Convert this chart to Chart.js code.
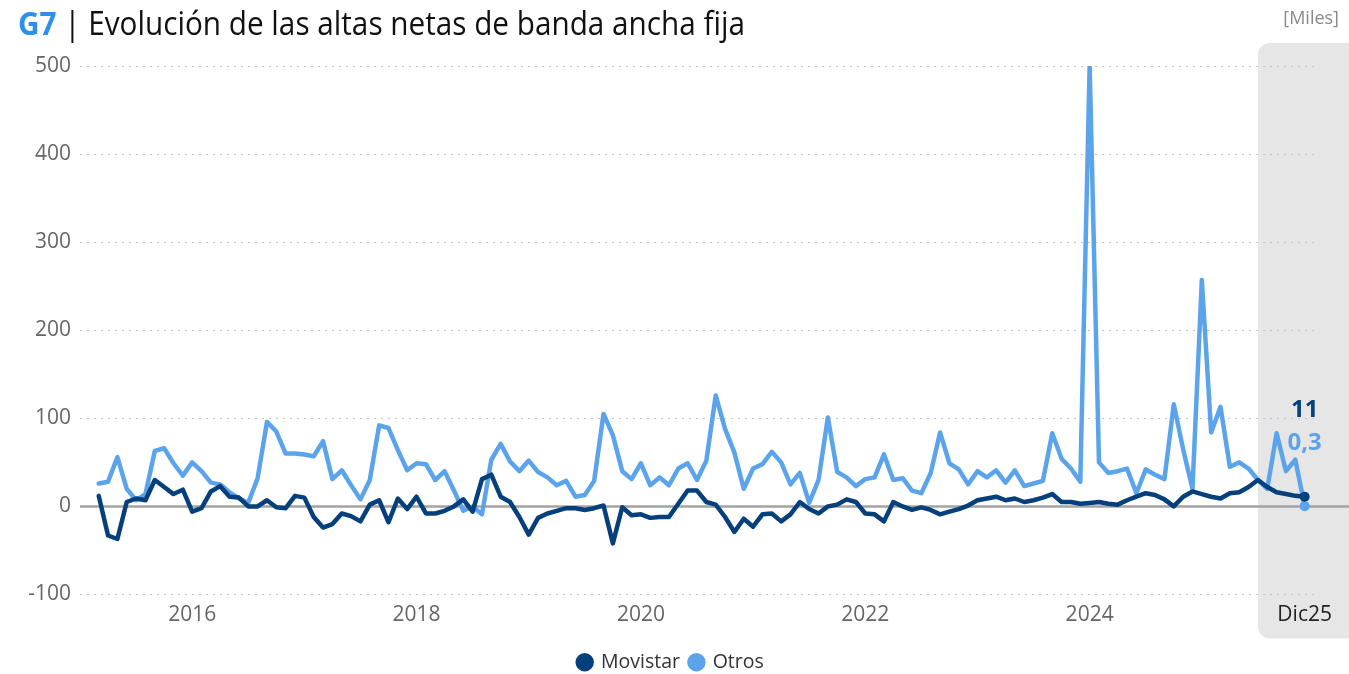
<!DOCTYPE html>
<html>
<head>
<meta charset="utf-8">
<script src="https://cdn.jsdelivr.net/npm/chart.js@4.4.1/dist/chart.umd.min.js"></script>
<style>
  html, body { margin: 0; padding: 0; background: #fff; }
  #wrap { position: relative; width: 1349px; height: 674px; }
</style>
</head>
<body>
<div id="wrap"><canvas id="myChart" width="1349" height="674"></canvas></div>
<script>
// monthly net adds (thousands), Mar 2015 .. Dec 2025
var movistar = [12, -33, -37, 5, 9, 7, 30, 22, 14, 19, -6, -2, 17, 23, 11, 10, 0, 0, 7, -1,
  -2, 12, 10, -12, -24, -20, -8, -11, -17, 2, 7, -18, 9, -3, 11, -8, -8, -5, 0, 8,
  -6, 31, 36, 11, 5, -12, -32, -13, -8, -5, -2, -2, -4, -2, 1, -42, -1, -10, -9, -13,
  -12, -12, 3, 18, 18, 5, 2, -12, -29, -14, -23, -9, -8, -17, -9, 5, -3, -8, 0, 2,
  8, 5, -8, -9, -17, 5, 0, -4, -1, -4, -9, -6, -3, 1, 7, 9, 11, 7, 9, 5,
  7, 10, 14, 5, 5, 3, 4, 5, 3, 2, 7, 11, 15, 13, 8, 0, 11, 17, 14, 11,
  9, 15, 16, 22, 30, 22, 16, 14, 12, 11];
var otros = [26, 28, 56, 20, 7, 14, 63, 66, 49, 35, 50, 40, 27, 25, 16, 9, 4, 32, 96, 85,
  60, 60, 59, 57, 74, 31, 41, 24, 8, 30, 92, 89, 64, 41, 49, 48, 30, 40, 18, -5,
  0, -9, 53, 71, 51, 40, 52, 39, 33, 24, 29, 11, 13, 29, 105, 81, 40, 31, 49, 24,
  33, 24, 43, 49, 30, 52, 126, 88, 61, 20, 43, 48, 62, 50, 25, 38, 4, 30, 101, 39,
  33, 23, 31, 33, 59, 30, 32, 18, 15, 38, 84, 49, 42, 25, 40, 33, 41, 27, 41, 23,
  26, 29, 83, 54, 43, 28, 500, 50, 38, 40, 43, 15, 42, 36, 31, 116, 65, 20, 257, 84,
  113, 45, 50, 43, 30, 20, 83, 40, 53, 0.3];

var tickValues = [2016, 2018, 2020, 2022, 2024, 2025 + 11 / 12];
var tickLabels = ['2016', '2018', '2020', '2022', '2024', 'Dic25'];
var endLabels = ['11', '0,3'];

var darkBlue = '#053f7c';
var lightBlue = '#5ba4ec';
var font = "'Open Sans', 'Noto Sans', sans-serif";

// x position of each month (first point = March 2015)
var meses = [];
for (var i = 0; i < movistar.length; i++) meses.push(2015 + (2 + i) / 12);

function pts(arr) {
  return arr.map(function (v, i) { return { x: meses[i], y: v }; });
}
function lastDot(arr) {
  return arr.map(function (v, i) { return i === arr.length - 1 ? 5 : 0; });
}

var decor = {
  id: 'decor',
  beforeDraw: function (chart) {
    var c = chart.ctx, x = chart.scales.x, y = chart.scales.y;
    // grey highlight box for the latest months
    var left = x.getPixelForValue(2025.5), top = y.getPixelForValue(500) - 23;
    var bottom = chart.chartArea.bottom + 44, right = chart.width + 20, r = 12;
    c.save();
    c.fillStyle = '#e6e6e6';
    c.beginPath();
    c.moveTo(left + r, top);
    c.lineTo(right, top);
    c.lineTo(right, bottom);
    c.lineTo(left + r, bottom);
    c.arcTo(left, bottom, left, bottom - r, r);
    c.lineTo(left, top + r);
    c.arcTo(left, top, left + r, top, r);
    c.fill();
    c.restore();
  },
  beforeDatasetsDraw: function (chart) {
    var c = chart.ctx, y = chart.scales.y;
    var y0 = y.getPixelForValue(0);
    c.save();
    c.strokeStyle = '#a3a3a3';
    c.lineWidth = 2.5;
    c.beginPath();
    c.moveTo(chart.chartArea.left, y0);
    c.lineTo(chart.width, y0);
    c.stroke();
    c.restore();
  },
  afterDraw: function (chart) {
    var c = chart.ctx, x = chart.scales.x, y = chart.scales.y;
    c.save();
    // title
    c.textBaseline = 'alphabetic';
    c.textAlign = 'left';
    c.font = "bold 32px " + font;
    var w1 = c.measureText('G7').width;
    c.font = "32px " + font;
    var w2 = c.measureText(' | Evolución de las altas netas de banda ancha fija').width;
    var sx = 727 / (w1 + w2);
    c.save();
    c.translate(18, 35);
    c.scale(sx, 1);
    c.font = "bold 32px " + font;
    c.fillStyle = '#2a8ff0';
    c.fillText('G7', 0, 0);
    c.font = "32px " + font;
    c.fillStyle = '#111';
    c.fillText(' | Evolución de las altas netas de banda ancha fija', w1, 0);
    c.restore();
    // units
    c.font = "18px " + font;
    c.fillStyle = '#8a8a8a';
    c.textAlign = 'right';
    c.fillText('[Miles]', 1339, 24);
    // end values
    var xe = x.getPixelForValue(meses[meses.length - 1]);
    c.textAlign = 'center';
    c.textBaseline = 'middle';
    c.font = "bold 24px " + font;
    c.fillStyle = darkBlue;
    c.fillText(endLabels[0], xe, y.getPixelForValue(100) - 8);
    c.fillStyle = lightBlue;
    c.fillText(endLabels[1], xe, y.getPixelForValue(72));
    c.restore();
  }
};

var ctx = document.getElementById('myChart').getContext('2d');
var chart = new Chart(ctx, {
  type: 'line',
  data: {
    datasets: [{
      label: 'Movistar',
      data: pts(movistar),
      borderColor: darkBlue,
      backgroundColor: darkBlue,
      borderWidth: 4.5,
      pointRadius: lastDot(movistar),
      pointBackgroundColor: darkBlue,
      pointBorderWidth: 0,
      tension: 0
    }, {
      label: 'Otros',
      data: pts(otros),
      borderColor: lightBlue,
      backgroundColor: lightBlue,
      borderWidth: 4.5,
      pointRadius: lastDot(otros),
      pointBackgroundColor: lightBlue,
      pointBorderWidth: 0,
      tension: 0
    }]
  },
  options: {
    responsive: false,
    animation: false,
    events: [],
    layout: { padding: { left: 28, right: 35, top: 66, bottom: -8 } },
    elements: { line: { borderJoinStyle: 'round', borderCapStyle: 'round' } },
    scales: {
      x: {
        type: 'linear',
        min: 2015,
        max: 2026,
        grid: { display: false, drawTicks: false },
        border: { display: false },
        afterBuildTicks: function (s) {
          s.ticks = tickValues.map(function (v) { return { value: v }; });
        },
        afterFit: function (s) { s.height = 48; },
        ticks: {
          autoSkip: false,
          maxRotation: 0,
          padding: 8,
          font: { family: font, size: 21 },
          color: function (c) { return c.index === tickLabels.length - 1 ? '#222' : '#666'; },
          callback: function (v, i) { return tickLabels[i]; }
        }
      },
      y: {
        min: -100,
        max: 500,
        afterFit: function (s) { s.width = 52; },
        border: { display: false, dash: [2, 5] },
        grid: {
          drawTicks: false,
          lineWidth: 1,
          color: function (c) { return c.tick.value === 0 ? 'rgba(0,0,0,0)' : '#c4c4c4'; }
        },
        ticks: {
          stepSize: 100,
          padding: 9,
          font: { family: font, size: 21 },
          color: '#666'
        }
      }
    },
    plugins: {
      legend: {
        position: 'bottom',
        labels: {
          usePointStyle: true,
          pointStyle: 'circle',
          boxWidth: 13,
          boxHeight: 13,
          padding: 10,
          color: '#333',
          font: { family: font, size: 19.5 }
        }
      },
      tooltip: { enabled: false }
    }
  },
  plugins: [decor]
});
</script>
</body>
</html>
